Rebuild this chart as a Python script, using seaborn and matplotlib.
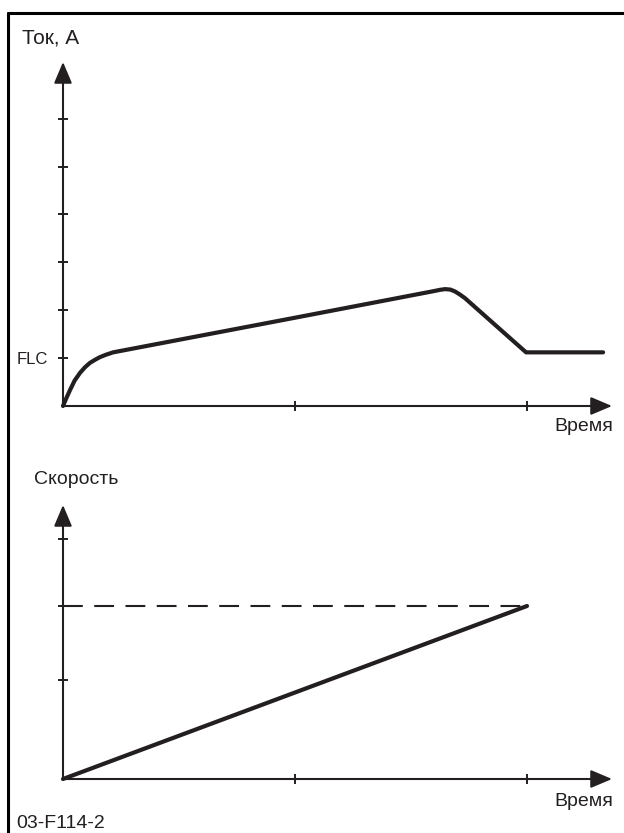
#!/usr/bin/env python3
"""
Soft start diagram: motor current and speed versus time.
Writes out.png (624x833).
"""
import matplotlib
matplotlib.use('Agg')
import matplotlib.pyplot as plt
from matplotlib.lines import Line2D
import seaborn as sns

# Current curve (time in tick units, current in tick units; FLC = 1)
t_current = [0.0, 0.015, 0.030, 0.05, 0.073, 0.095, 0.116, 0.14, 0.159, 0.185, 0.216,
             0.59, 1.0, 1.60, 1.625, 1.647, 1.67, 1.69, 1.71, 1.733, 1.996, 2.328]
i_current = [0.0, 0.17, 0.33, 0.53, 0.69, 0.81, 0.90, 0.97, 1.02, 1.07, 1.12,
             1.465, 1.843, 2.40, 2.425, 2.44, 2.43, 2.39, 2.33, 2.25, 1.12, 1.12]
current_ticks = [1, 2, 3, 4, 5, 6]
current_ticklabels = ['FLC', '', '', '', '', '']

# Speed ramp (full speed = 1)
t_speed = [0.0, 2.0]
v_speed = [0.0, 1.0]
t_full = [0.0, 2.0]
v_full = [1.0, 1.0]
speed_ticks = [0.572, 1.0, 1.387]

time_ticks = [1, 2]

INK = '#231f20'
W, H = 624, 833


def px_axes(fig, x0, y_top, x1, y_bottom):
    return fig.add_axes([x0 / W, 1 - y_bottom / H, (x1 - x0) / W, (y_bottom - y_top) / H])


def draw_axes_frame(ax):
    for s in ax.spines.values():
        s.set_visible(False)
    ax.set_facecolor('none')
    head = "-|>,head_length=1.3,head_width=0.55"
    for tip in [(1, 0), (0, 1)]:
        ax.annotate('', xy=tip, xytext=(0, 0), xycoords='axes fraction',
                    arrowprops=dict(arrowstyle=head, mutation_scale=10, lw=1.5,
                                    color=INK, shrinkA=0, shrinkB=0),
                    annotation_clip=False)
    ax.tick_params(left=True, bottom=True, direction='inout', length=7.5, width=1.4,
                   color=INK, labelsize=12, labelcolor=INK, pad=7)
    ax.set_xticks(time_ticks)
    ax.set_xticklabels([])
    ax.set_xlabel('')
    ax.set_ylabel('')


def main():
    sns.set_style('white')
    plt.rcParams['font.family'] = ['Liberation Sans', 'DejaVu Sans']

    fig = plt.figure(figsize=(W / 100, H / 100), dpi=100)

    # outer frame (left and top edge only)
    fig.add_artist(Line2D([8 / W, 8 / W], [0, 1 - 13 / H], color='black', lw=2.2))
    fig.add_artist(Line2D([8 / W, 1], [1 - 13 / H, 1 - 13 / H], color='black', lw=2.2))

    # Current chart
    ax1 = px_axes(fig, 63, 62, 612, 406)
    ax1.set_xlim(0, 549 / 232)
    ax1.set_ylim(0, 344 / 47.9)
    sns.lineplot(x=t_current, y=i_current, ax=ax1, sort=False, color=INK, lw=3,
                 clip_on=False, solid_joinstyle='round')
    draw_axes_frame(ax1)
    ax1.set_yticks(current_ticks)
    ax1.set_yticklabels(current_ticklabels)

    # Speed chart
    ax2 = px_axes(fig, 63, 505, 612, 779)
    ax2.set_xlim(0, 549 / 232)
    ax2.set_ylim(0, 274 / 173)
    sns.lineplot(x=t_full, y=v_full, ax=ax2, color=INK, lw=1.5, dashes=False,
                 linestyle=(0, (9.5, 5.5)), clip_on=False)
    sns.lineplot(x=t_speed, y=v_speed, ax=ax2, color=INK, lw=3, clip_on=False)
    draw_axes_frame(ax2)
    ax2.set_yticks(speed_ticks)
    ax2.set_yticklabels([])

    def label(x, y, s, size, ha='left'):
        fig.text(x / W, 1 - y / H, s, fontsize=size, ha=ha, va='center', color=INK)

    label(22, 38, 'Ток, А', 15)
    label(613, 427, 'Время', 14, ha='right')
    label(34, 480, 'Скорость', 14)
    label(613, 802, 'Время', 14, ha='right')
    label(16, 823, '03-F114-2', 14)

    fig.savefig('out.png', dpi=100)
    plt.close(fig)


if __name__ == '__main__':
    main()
